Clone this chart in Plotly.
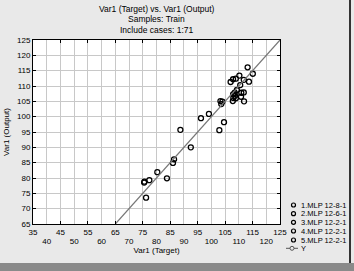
import plotly.graph_objects as go

target = [113.2, 115.1, 110.2, 113.7, 111.8, 108.9, 107.9, 107.0, 110.5, 109.3,
          108.5, 107.9, 108.6, 108.0, 108.9, 107.8, 110.9, 111.8, 110.8, 111.9,
          103.3, 104.0, 103.6, 99.1, 96.2, 104.6, 102.9, 88.7, 92.5, 86.4,
          86.0, 80.3, 83.8, 77.4, 75.6, 75.5, 76.2]
output = [116.1, 114.0, 113.4, 111.4, 112.0, 112.4, 112.2, 111.3, 110.3, 108.7,
          107.8, 107.3, 106.8, 106.1, 106.0, 105.1, 107.8, 107.9, 106.5, 105.0,
          105.1, 104.9, 104.1, 100.9, 99.5, 98.2, 95.6, 95.7, 90.0, 86.1,
          84.9, 81.9, 79.9, 79.3, 78.8, 78.5, 73.6]
series_names = ["1.MLP 12-8-1", "2.MLP 12-6-1", "3.MLP 12-2-1", "4.MLP 12-2-1", "5.MLP 12-2-1"]
ideal_x = [65, 125]
ideal_y = [65, 125]
x_ticks_a = [35, 45, 55, 65, 75, 85, 95, 105, 115, 125]
x_ticks_b = [40, 50, 60, 70, 80, 90, 100, 110, 120]
y_ticks = [65, 70, 75, 80, 85, 90, 95, 100, 105, 110, 115, 120, 125]

FONT = "Liberation Sans"
L, R, T, B = 33, 280, 40, 224
PW, PH = R - L, B - T


def px(x):
    return (x - L) / PW


def py(y):
    return (B - y) / PH


fig = go.Figure()
fig.add_trace(go.Scatter(
    x=target, y=output, mode="markers", name=series_names[0],
    marker=dict(symbol="circle-open", size=5, color="black", line=dict(width=1.3)),
))
fig.add_trace(go.Scatter(
    x=ideal_x, y=ideal_y, mode="lines", name="Y",
    line=dict(color="#777777", width=1.2),
))
fig.add_trace(go.Scatter(x=[None], y=[None], xaxis="x2", showlegend=False))

annotations = []
for text, cy in [("Var1 (Target) vs. Var1 (Output)", 9), ("Samples: Train", 19.5),
                 ("Include cases: 1:71", 30)]:
    annotations.append(dict(text=text, x=0.5, y=py(cy), xref="paper", yref="paper",
                            yanchor="middle", showarrow=False, font=dict(size=8.5)))
shapes = [
    dict(type="rect", xref="paper", yref="paper", x0=px(0), x1=px(354),
         y0=py(271), y1=py(263), fillcolor="#8a8a8a", line=dict(width=0), layer="above"),
    dict(type="line", xref="paper", yref="paper", x0=px(350), x1=px(350),
         y0=py(263), y1=py(0), line=dict(color="#333333", width=2), layer="above"),
]
legend_y = [205, 213.7, 222.3, 231, 240, 248.3]
for name, ly in zip(series_names + ["Y"], legend_y):
    annotations.append(dict(text=name, x=px(299), y=py(ly), xref="paper", yref="paper",
                            xanchor="left", yanchor="middle", showarrow=False,
                            font=dict(size=7.5)))
    if name == "Y":
        shapes.append(dict(type="line", xref="paper", yref="paper", x0=px(286), x1=px(298),
                           y0=py(ly), y1=py(ly), line=dict(color="#555555", width=1)))
        shapes.append(dict(type="circle", xref="paper", yref="paper", x0=px(290), x1=px(294),
                           y0=py(ly + 2), y1=py(ly - 2), fillcolor="#e9e9e9",
                           line=dict(color="#555555", width=1)))
    else:
        shapes.append(dict(type="circle", xref="paper", yref="paper", x0=px(291.5), x1=px(295.5),
                           y0=py(ly + 2), y1=py(ly - 2),
                           line=dict(color="black", width=1.2)))

fig.update_layout(
    width=354, height=271,
    margin=dict(l=L, r=354 - R, t=T, b=271 - B, autoexpand=False),
    paper_bgcolor="#e9e9e9", plot_bgcolor="white",
    font=dict(family=FONT, size=8, color="black"),
    showlegend=False,
    xaxis=dict(range=[35, 125], tickvals=x_ticks_a, showgrid=True, gridcolor="#c8c8c8",
               minor=dict(dtick=5, showgrid=True, gridcolor="#c8c8c8"),
               showline=True, linecolor="black", linewidth=1, mirror="ticks",
               ticks="inside", ticklen=3, tickcolor="black", zeroline=False, automargin=False,
               tickfont=dict(size=8), title=dict(text="Var1 (Target)", standoff=11, font=dict(size=8))),
    xaxis2=dict(range=[35, 125], tickvals=x_ticks_b, overlaying="x", side="bottom",
                showgrid=False, showline=False, ticks="", tickfont=dict(size=8),
                ticklabelstandoff=11, zeroline=False, automargin=False),
    yaxis=dict(range=[65, 125], tickvals=y_ticks, showgrid=True, gridcolor="#c8c8c8",
               showline=True, linecolor="black", linewidth=1, mirror="ticks",
               ticks="inside", ticklen=3, tickcolor="black", zeroline=False, automargin=False,
               tickfont=dict(size=8), title=dict(text="Var1 (Output)", standoff=6, font=dict(size=8))),
    annotations=annotations,
    shapes=shapes,
)
fig.write_html("out.html", config={"displayModeBar": False},
               post_script="document.body.style.margin='0';")
